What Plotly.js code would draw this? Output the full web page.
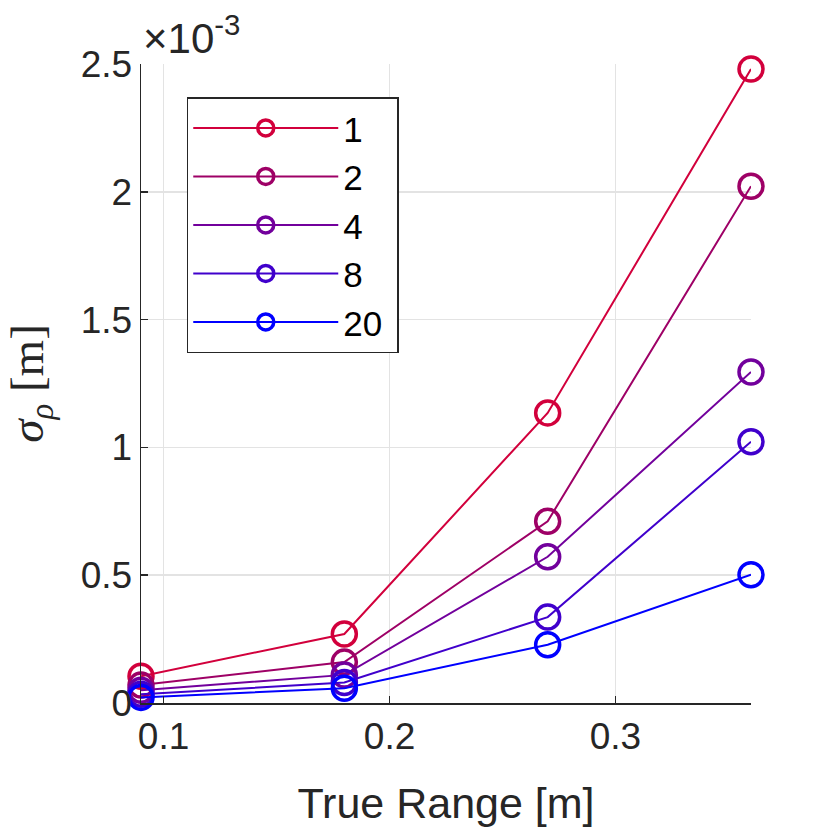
<!DOCTYPE html>
<html>
<head>
<meta charset="utf-8">
<script src="https://cdn.plot.ly/plotly-3.0.1.min.js"></script>
<style>
  html, body { margin: 0; padding: 0; background: #fff; }
  #chart { width: 830px; height: 830px; }
</style>
</head>
<body>
<div id="chart"></div>
<script>
  // true range [m]
  const trueRange = [0.09, 0.18, 0.27, 0.36];

  // sigma_rho, in units of 1e-3 m
  const sigma1  = [0.105, 0.27, 1.135, 2.48];
  const sigma2  = [0.07,  0.16, 0.711, 2.022];
  const sigma4  = [0.05,  0.11, 0.572, 1.295];
  const sigma8  = [0.034, 0.08, 0.336, 1.022];
  const sigma20 = [0.022, 0.058, 0.228, 0.502];

  const seriesNames = ['1', '2', '4', '8', '20'];
  const seriesData  = [sigma1, sigma2, sigma4, sigma8, sigma20];
  const seriesColors = ['#D2003C', '#9E0066', '#72009C', '#4000CC', '#0000FF'];

  const xTicks = [0.1, 0.2, 0.3];

  const ink = '#262626';

  const traces = seriesData.map(function (ys, i) {
    return {
      x: trueRange,
      y: ys,
      // trailing nbsp keeps some room inside the legend box, like the original
      name: seriesNames[i] + '\u00a0',
      type: 'scatter',
      mode: 'lines+markers',
      cliponaxis: false,
      line: { color: seriesColors[i], width: 2 },
      marker: {
        symbol: 'circle-open',
        size: 24,
        color: seriesColors[i],
        line: { color: seriesColors[i], width: 3.5 },
      },
    };
  });

  const axisCommon = {
    showline: true,
    linecolor: ink,
    linewidth: 1.5,
    mirror: false,
    showgrid: true,
    gridcolor: '#E3E3E3',
    gridwidth: 1.5,
    zeroline: false,
    ticks: 'inside',
    ticklen: 7,
    tickwidth: 1.5,
    tickcolor: ink,
    tickfont: { family: 'Liberation Sans, Arial, sans-serif', size: 37, color: ink },
  };

  const layout = {
    width: 830,
    height: 830,
    margin: { l: 141, r: 79, t: 64, b: 127 },
    paper_bgcolor: '#fff',
    plot_bgcolor: '#fff',
    showlegend: true,
    legend: {
      x: 0.075, y: 0.948,
      xanchor: 'left', yanchor: 'top',
      bgcolor: '#fff',
      bordercolor: ink,
      borderwidth: 1.5,
      itemwidth: 145,
      font: { family: 'Liberation Sans, Arial, sans-serif', size: 35, color: '#000' },
    },
    xaxis: Object.assign({}, axisCommon, {
      range: [0.09, 0.36],
      tickvals: xTicks,
      ticktext: xTicks.map(function (v) { return v.toFixed(1); }),
      title: {
        text: 'True Range [m]',
        font: { family: 'Liberation Sans, Arial, sans-serif', size: 43, color: ink },
        standoff: 32,
      },
    }),
    yaxis: Object.assign({}, axisCommon, {
      range: [0, 2.5],
      dtick: 0.5,
      tick0: 0,
      title: {
        text: '<i>σ</i><sub><i>ρ</i></sub> [m]',
        font: { family: 'Liberation Serif, DejaVu Serif, serif', size: 47, color: ink },
        standoff: 22,
      },
    }),
    annotations: [{
      xref: 'paper', yref: 'paper',
      x: 0, y: 1,
      xanchor: 'left', yanchor: 'bottom',
      text: '×10<sup>-3</sup>',
      showarrow: false,
      font: { family: 'Liberation Sans, Arial, sans-serif', size: 42, color: ink },
    }],
  };

  Plotly.newPlot('chart', traces, layout, { staticPlot: true, displayModeBar: false });
</script>
</body>
</html>
